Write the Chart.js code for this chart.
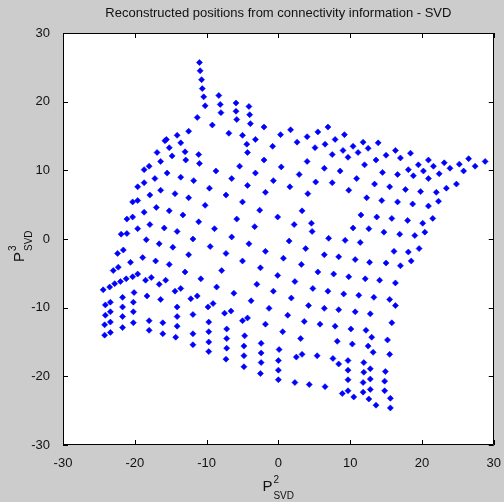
<!DOCTYPE html>
<html>
<head>
<meta charset="utf-8">
<script src="https://cdn.jsdelivr.net/npm/chart.js@4"></script>
<style>
  html, body { margin: 0; padding: 0; background: #cccccc; }
  canvas { display: block; }
</style>
</head>
<body>
<canvas id="svd" width="504" height="502"></canvas>
<script>
// Reconstructed node positions (second and third SVD components)
const p2Svd = [
  -11.0,-10.9,-10.7,-10.6,-10.4,-10.2,-8.3,-8.1,-8.0,-11.3,-9.2,-6.9,-12.5,-14.1,-15.6,-15.8,-13.6,-15.2,-13.0,-16.9,
  -14.8,-11.1,-12.9,-16.4,-11.0,-18.0,-18.7,-8.7,-15.5,-13.6,-17.2,-11.8,-6.5,-18.7,-19.6,-9.6,-16.4,-17.9,-14.4,-7.3,
  -12.5,-20.3,-19.6,-10.2,-17.0,-18.7,-15.2,-13.3,-21.1,-20.3,-11.1,-17.9,-19.6,-15.9,-14.1,-8.9,-21.1,-21.9,
  -5.9,-4.1,-5.9,-4.0,-5.8,-3.9,-2.0,1.7,6.9,0.3,5.5,9.2,-5.0,4.0,-3.2,7.9,2.6,11.8,-4.4,6.5,
  10.4,-0.8,5.1,12.5,9.0,-4.3,11.1,7.5,9.7,-2.0,4.0,-5.4,0.4,6.4,12.0,8.6,-3.2,2.9,10.9,-0.7,
  5.2,7.5,-4.3,1.6,9.8,-1.8,4.1,12.3,-5.0,-2.6,3.3,11.5,-5.8,-0.1,-3.3,2.2,4.6,4.7,10.4,12.6,
  13.9,16.3,18.4,13.6,15.0,17.0,20.9,19.5,21.6,23.1,25.2,26.5,28.8,23.9,27.4,25.8,18.1,20.2,22.4,14.5,
  16.6,18.8,20.9,13.4,15.5,17.7,19.8,22.0,23.4,24.8,14.4,16.6,18.7,22.3,20.9,13.7,15.8,18.0,20.1,21.5,
  14.7,16.9,19.0,20.4,
  -18.4,-16.6,-14.7,-11.9,-9.5,-6.5,-22.4,-21.6,-18.9,-17.1,-15.2,-12.5,-7.3,-23.0,-22.3,-20.6,-13.0,-7.9,-24.4,-23.5,
  -22.8,-22.0,-21.2,-20.3,-19.6,-18.5,-17.7,-16.6,-15.7,-10.8,-8.6,-14.4,-13.6,-12.2,-11.3,-18.3,-16.4,-20.1,-21.7,-23.4,
  -24.1,-9.8,-9.1,-7.5,-6.6,-6.2,-20.2,-21.7,-20.2,-23.4,-24.1,-21.7,-14.1,-14.1,-11.9,-20.2,-23.4,-24.2,-21.7,-18.0,
  -16.1,-14.1,-9.7,-18.0,-16.1,-14.3,-23.4,-24.2,-11.9,-9.7,-7.2,-11.9,-9.7,-7.2,-9.7,-7.2,-7.3,
  -4.1,-1.8,1.5,3.8,7.0,9.3,11.4,-5.0,-2.5,0.7,3.2,6.4,8.4,10.7,12.7,-0.1,2.3,-3.0,5.5,7.7,
  9.8,12.1,-0.7,1.8,-3.8,4.8,6.9,9.1,11.2,13.3,-1.3,1.3,4.2,6.4,8.4,10.7,12.8,-5.0,-4.3,-1.8,
  0.6,3.6,5.8,7.9,10.1,12.2,3.1,-4.7,-4.8,-4.8,-4.8,-2.4,-2.4,-2.4,-2.5,0.1,0.0,0.0,0.0,2.5,
  3.3,5.4,8.2,10.3,12.5,13.0,7.6,8.4,9.7,9.7,9.7,9.7,8.9,10.5,11.9,11.9,11.8,11.8,12.8,12.8,
  12.8,12.6,13.2,2.3,4.3,6.5,13.6,
  16.1,18.1,19.6,15.0,17.0,18.5,14.1,16.3,15.5,16.3,15.8,15.2,15.5,14.9,14.8,14.8,15.6,15.6
];
const p3Svd = [
  25.7,24.5,23.2,21.9,20.7,19.4,20.9,19.6,18.4,17.7,16.6,15.4,15.7,15.1,14.5,14.3,14.0,13.3,12.7,12.6,
  12.1,12.3,11.5,11.3,11.0,10.6,10.1,9.9,9.6,9.0,8.8,8.5,8.8,8.2,7.6,7.4,7.1,6.4,6.6,6.4,
  6.0,5.4,5.6,4.9,4.6,3.9,4.1,3.5,2.9,3.2,2.5,2.1,1.5,1.6,1.1,1.5,0.8,0.7,
  19.8,19.3,18.6,18.1,17.4,16.8,16.3,15.9,16.3,15.2,15.6,15.2,15.1,14.9,14.5,14.5,14.1,14.1,13.8,13.8,
  13.5,13.5,13.3,13.2,12.9,12.6,12.6,12.3,11.9,11.5,11.3,10.6,10.5,10.3,10.8,9.9,9.6,9.4,8.8,8.5,
  8.3,8.2,7.8,7.6,7.1,6.8,6.6,6.0,5.4,4.2,4.1,3.5,2.9,3.2,1.8,2.1,2.3,1.1,1.6,1.5,
  14.0,12.9,12.5,11.5,12.2,11.8,11.5,10.8,10.6,11.1,10.9,11.7,11.3,10.3,10.6,9.9,10.1,9.9,9.5,9.7,
  9.4,9.2,8.8,8.0,7.6,7.2,6.9,6.8,7.4,8.0,5.6,5.4,5.1,5.5,4.8,3.2,3.0,2.7,2.3,3.0,
  1.0,0.7,0.5,1.0,
  -0.1,-0.7,-1.2,0.0,-1.1,0.3,-2.1,-1.6,-2.7,-3.2,-3.7,-2.3,-2.1,-4.6,-4.1,-3.4,-4.8,-4.6,-7.4,-7.0,
  -6.5,-6.2,-5.8,-5.5,-5.1,-6.0,-5.6,-6.6,-6.0,-5.8,-7.0,-7.6,-7.2,-8.7,-8.3,-8.3,-8.8,-7.8,-8.5,-9.2,
  -9.6,-9.9,-9.4,-10.8,-10.5,-7.9,-9.2,-9.9,-10.6,-10.6,-11.1,-11.3,-9.9,-11.3,-11.0,-12.2,-12.1,-12.5,-12.9,-11.9,
  -12.2,-12.7,-12.1,-13.3,-13.8,-14.3,-13.6,-14.0,-13.8,-13.5,-13.1,-15.4,-15.0,-14.5,-16.4,-15.9,-17.5,
  -0.7,-1.8,-0.3,-1.4,0.1,-0.2,-0.5,-3.2,-4.2,-2.8,-3.7,-2.3,-2.6,-3.0,-3.4,-5.3,-6.2,-6.6,-4.8,-5.1,
  -5.5,-5.8,-7.6,-8.6,-9.0,-7.2,-7.6,-8.0,-8.2,-8.5,-10.1,-11.1,-9.7,-10.1,-10.3,-10.6,-10.9,-11.9,-11.5,-12.4,
  -13.5,-12.0,-12.4,-12.7,-13.1,-13.3,-14.5,-14.1,-15.6,-17.0,-18.6,-15.2,-16.6,-18.0,-19.6,-16.1,-17.7,-19.1,-20.5,-17.2,
  -16.8,-17.0,-14.9,-15.3,-15.6,-14.3,-17.4,-18.2,-17.7,-19.1,-20.5,-22.1,-22.5,-23.0,-18.0,-19.4,-20.9,-22.3,-18.9,-20.4,
  -21.9,-23.3,-16.5,-20.9,-21.2,-21.5,-24.2,
  -1.8,-1.9,-1.4,-3.5,-3.9,-3.2,-6.0,-6.4,-8.8,-9.7,-12.2,-14.7,-16.8,-19.3,-20.7,-22.1,-23.2,-24.6
];
const xTickValues = [-30, -20, -10, 0, 10, 20, 30];
const yTickValues = [-30, -20, -10, 0, 10, 20, 30];
const chartTitle = 'Reconstructed positions from connectivity information - SVD';

const FONT = '"Liberation Sans", Arial, sans-serif';
const points = p2Svd.map((x, i) => ({ x: x, y: p3Svd[i] }));

// Figure background, white axes box, inward tick marks on all four sides, titles
const matlabFrame = {
  id: 'matlabFrame',
  beforeDraw(chart) {
    const { ctx, chartArea: a } = chart;
    ctx.save();
    ctx.fillStyle = '#cccccc';
    ctx.fillRect(0, 0, chart.width, chart.height);
    ctx.fillStyle = '#ffffff';
    ctx.fillRect(a.left, a.top, a.right - a.left, a.bottom - a.top);
    ctx.restore();
  },
  afterDraw(chart) {
    const { ctx, chartArea: a, scales } = chart;
    const tl = 5;
    ctx.save();
    ctx.strokeStyle = '#000000';
    ctx.lineWidth = 1;
    ctx.beginPath();
    ctx.rect(Math.round(a.left) + 0.5, Math.round(a.top) + 0.5,
             Math.round(a.right - a.left) - 1, Math.round(a.bottom - a.top) - 1);
    ctx.stroke();
    ctx.beginPath();
    scales.x.ticks.forEach(t => {
      const px = Math.round(scales.x.getPixelForValue(t.value)) + 0.5;
      ctx.moveTo(px, a.bottom); ctx.lineTo(px, a.bottom - tl);
      ctx.moveTo(px, a.top); ctx.lineTo(px, a.top + tl);
    });
    scales.y.ticks.forEach(t => {
      const py = Math.round(scales.y.getPixelForValue(t.value)) + 0.5;
      ctx.moveTo(a.left, py); ctx.lineTo(a.left + tl, py);
      ctx.moveTo(a.right, py); ctx.lineTo(a.right - tl, py);
    });
    ctx.stroke();

    // title
    const cx = (a.left + a.right) / 2;
    ctx.fillStyle = '#111111';
    ctx.font = '13px ' + FONT;
    ctx.textAlign = 'center';
    ctx.textBaseline = 'middle';
    ctx.fillText(chartTitle, cx, 13);

    // x axis title: P with superscript 2 and subscript SVD
    ctx.textAlign = 'left';
    ctx.textBaseline = 'alphabetic';
    ctx.font = '15px ' + FONT;
    const pw = ctx.measureText('P').width;
    const xStart = cx - 16;
    ctx.fillText('P', xStart, 491);
    ctx.font = '10px ' + FONT;
    ctx.fillText('2', xStart + pw + 1, 483);
    ctx.fillText('SVD', xStart + pw + 1, 499);

    // y axis title, rotated
    ctx.save();
    ctx.translate(24, 262);
    ctx.rotate(-Math.PI / 2);
    ctx.font = '15px ' + FONT;
    ctx.fillText('P', 0, 0);
    ctx.font = '10px ' + FONT;
    ctx.fillText('3', pw + 1, -8);
    ctx.fillText('SVD', pw + 1, 8);
    ctx.restore();
    ctx.restore();
  }
};

new Chart(document.getElementById('svd'), {
  type: 'scatter',
  data: {
    datasets: [{
      data: points,
      pointStyle: 'rectRot',
      pointRadius: 3,
      pointHoverRadius: 3,
      backgroundColor: '#0000ff',
      borderColor: '#0000ff',
      borderWidth: 0.6
    }]
  },
  options: {
    responsive: false,
    animation: false,
    devicePixelRatio: 1,
    layout: { padding: { left: 0, top: 33, right: 10, bottom: 0 } },
    plugins: { legend: { display: false }, tooltip: { enabled: false }, title: { display: false } },
    scales: {
      x: {
        type: 'linear', min: -30, max: 30,
        afterBuildTicks: s => { s.ticks = xTickValues.map(v => ({ value: v })); },
        afterFit: s => { s.height = 57; },
        grid: { display: false },
        border: { display: false },
        ticks: { color: '#111111', font: { family: FONT, size: 13 }, padding: 3, maxRotation: 0 }
      },
      y: {
        type: 'linear', min: -30, max: 30,
        afterBuildTicks: s => { s.ticks = yTickValues.map(v => ({ value: v })); },
        afterFit: s => { s.width = 63; },
        grid: { display: false },
        border: { display: false },
        ticks: { color: '#111111', font: { family: FONT, size: 13 }, padding: 5 }
      }
    }
  },
  plugins: [matlabFrame]
});
</script>
</body>
</html>
